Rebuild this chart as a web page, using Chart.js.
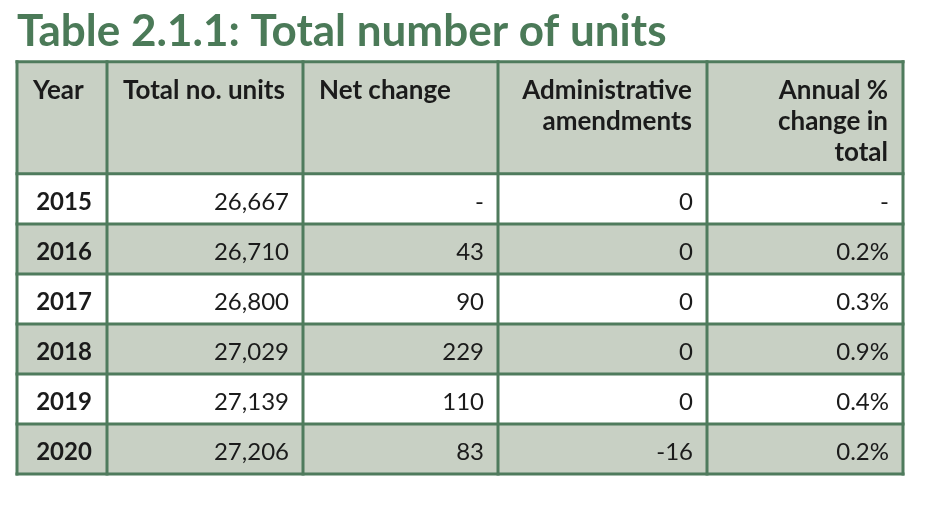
<!DOCTYPE html>
<html>
<head>
<meta charset="utf-8">
<script src="https://cdn.jsdelivr.net/npm/chart.js@4.4.1/dist/chart.umd.min.js"></script>
<style>
  html, body { margin: 0; padding: 0; background: #ffffff; }
  #wrap { width: 928px; height: 510px; }
</style>
</head>
<body>
<div id="wrap"><canvas id="c" width="928" height="510"></canvas></div>
<script>
// ---- data ----
const titleText = 'Table 2.1.1: Total number of units';
const headers = [['Year'], ['Total no. units'], ['Net change'], ['Administrative', 'amendments'], ['Annual %', 'change in', 'total']];
const years = ['2015', '2016', '2017', '2018', '2019', '2020'];
const totalUnits = [26667, 26710, 26800, 27029, 27139, 27206];
const netChange = [null, 43, 90, 229, 110, 83];
const adminAmendments = [0, 0, 0, 0, 0, -16];
const annualPctChange = [null, 0.2, 0.3, 0.9, 0.4, 0.2];

// ---- layout (scale units) ----
const colWidths = [90, 196, 195, 209, 196];
const headerHeight = 112;
const rowHeight = 50;

const colEdges = [0];
colWidths.forEach(w => colEdges.push(colEdges[colEdges.length - 1] + w));
const rowEdges = [0, headerHeight];
years.forEach(() => rowEdges.push(rowEdges[rowEdges.length - 1] + rowHeight));

const fmtInt = v => v === null ? '-' : v.toLocaleString('en-US');
const fmtPct = v => v === null ? '-' : v.toFixed(1) + '%';

const cellText = years.map((y, i) => [
  y, fmtInt(totalUnits[i]), fmtInt(netChange[i]), fmtInt(adminAmendments[i]), fmtPct(annualPctChange[i])
]);

const BORDER = '#4f7b5d';
const SHADE = '#c8d0c4';
const TEXT = '#1b1b1b';
const FONT = 'Lato, "Open Sans", sans-serif';

const tablePlugin = {
  id: 'tablePlugin',
  afterDatasetsDraw(chart) {
    const ctx = chart.ctx;
    const xs = chart.scales.x, ys = chart.scales.y;
    const X = v => xs.getPixelForValue(v);
    const Y = v => ys.getPixelForValue(v);
    const x0 = X(colEdges[0]), x1 = X(colEdges[colEdges.length - 1]);
    ctx.save();
    // backgrounds
    for (let r = 0; r < rowEdges.length - 1; r++) {
      const shaded = (r === 0) || (r % 2 === 0);
      ctx.fillStyle = shaded ? SHADE : '#ffffff';
      ctx.fillRect(x0, Y(rowEdges[r]), x1 - x0, Y(rowEdges[r + 1]) - Y(rowEdges[r]));
    }
    // header text
    ctx.fillStyle = TEXT;
    ctx.font = 'bold 26px ' + FONT;
    ctx.textBaseline = 'alphabetic';
    headers.forEach((lines, c) => {
      const right = c >= 3;
      ctx.textAlign = right ? 'right' : 'left';
      const tx = right ? X(colEdges[c + 1]) - 15 : X(colEdges[c]) + 16;
      lines.forEach((ln, k) => {
        ctx.fillText(ln, tx, Y(rowEdges[0]) + 37 + k * 31);
      });
    });
    // body text
    cellText.forEach((row, r) => {
      const base = Y(rowEdges[r + 1]) + 36;
      row.forEach((t, c) => {
        if (c === 0) {
          ctx.font = 'bold 24px ' + FONT;
          ctx.textAlign = 'center';
          ctx.fillText(t, (X(colEdges[0]) + X(colEdges[1])) / 2 + 2, base);
        } else {
          ctx.font = '24px ' + FONT;
          ctx.textAlign = 'right';
          ctx.fillText(t, X(colEdges[c + 1]) - 14, base);
        }
      });
    });
    // grid lines
    ctx.strokeStyle = BORDER;
    ctx.lineWidth = 3;
    const yTop = Y(rowEdges[0]), yBot = Y(rowEdges[rowEdges.length - 1]);
    colEdges.forEach(e => {
      ctx.beginPath(); ctx.moveTo(X(e), yTop - 1.5); ctx.lineTo(X(e), yBot + 1.5); ctx.stroke();
    });
    rowEdges.forEach(e => {
      ctx.beginPath(); ctx.moveTo(x0 - 1.5, Y(e)); ctx.lineTo(x1 + 1.5, Y(e)); ctx.stroke();
    });
    ctx.restore();
  }
};

new Chart(document.getElementById('c'), {
  type: 'scatter',
  data: { datasets: [] },
  options: {
    responsive: false,
    animation: false,
    events: [],
    layout: { padding: { left: 17, right: 25, top: 0, bottom: 36 } },
    plugins: {
      legend: { display: false },
      tooltip: { enabled: false },
      title: {
        display: true,
        text: titleText,
        align: 'start',
        color: '#4b7a58',
        font: { family: FONT, size: 44, weight: 'bold', lineHeight: 1.2 },
        padding: { top: 5, bottom: 4 }
      }
    },
    scales: {
      x: { type: 'linear', offset: false, min: colEdges[0], max: colEdges[colEdges.length - 1], display: false },
      y: { type: 'linear', offset: false, min: rowEdges[0], max: rowEdges[rowEdges.length - 1], reverse: true, display: false }
    }
  },
  plugins: [tablePlugin]
});
</script>
</body>
</html>
